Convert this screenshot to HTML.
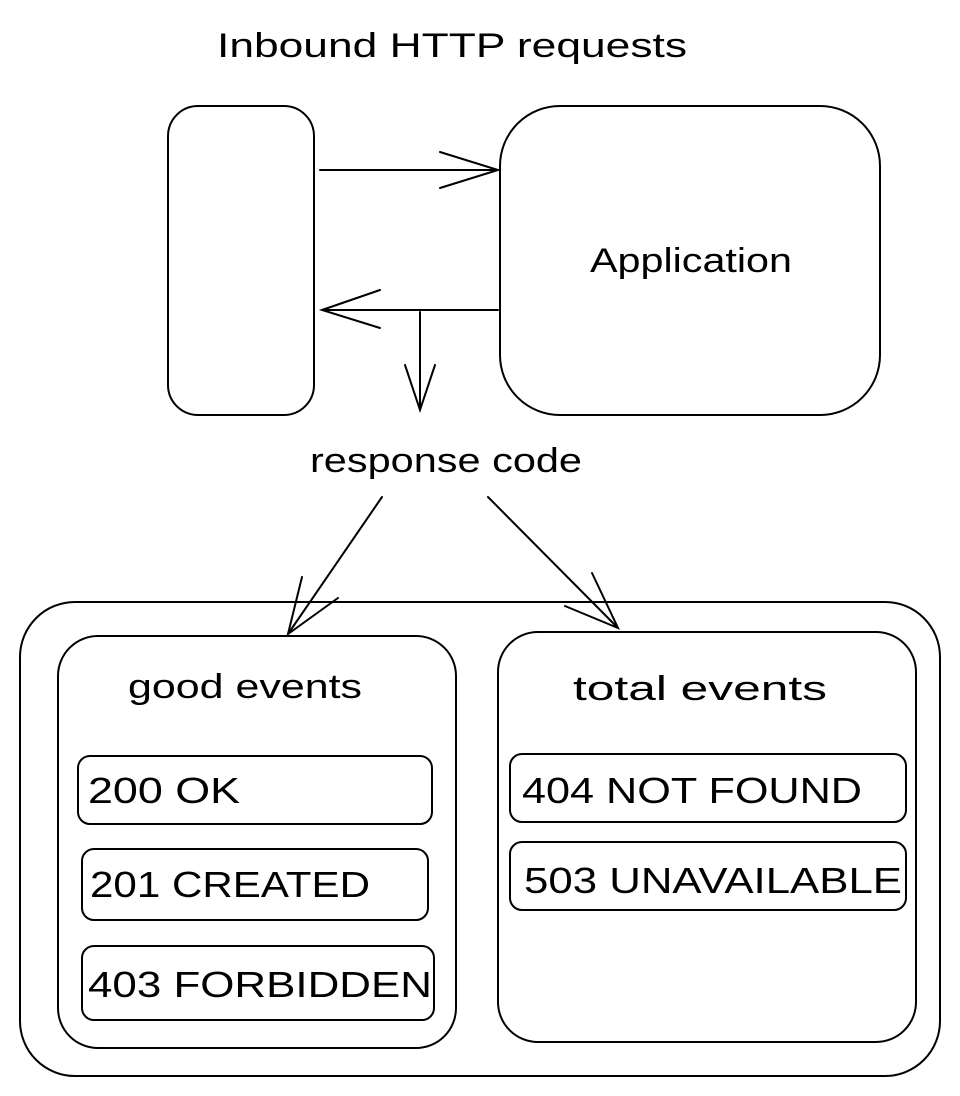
<!DOCTYPE html>
<html><head><meta charset="utf-8"><style>
html,body{margin:0;padding:0;background:#fff;}
svg{display:block;}
text{font-family:"Liberation Sans",sans-serif;fill:#000;}
</style></head><body>
<svg width="960" height="1096" viewBox="0 0 960 1096" xmlns="http://www.w3.org/2000/svg">
<g fill="none" stroke="#000" stroke-width="2" stroke-linecap="round">
<rect x="168" y="106" width="146" height="309" rx="30"/>
<rect x="500" y="106" width="380" height="309" rx="60"/>
<path d="M320 170 L498 170 M440 152 L498 170 L440 188"/>
<path d="M498 310 L322 310 M380 290 L322 310 L380 328"/>
<path d="M420 312 L420 410 M405 365 L420 410 L435 365"/>
<path d="M382 497 L288 634 M302 577 L288 634 L338 598"/>
<path d="M488 497 L618 628 M592 573 L618 628 L565 606"/>
<rect x="20" y="602" width="920" height="474" rx="55"/>
<rect x="58" y="636" width="398" height="412" rx="40"/>
<rect x="498" y="632" width="418" height="410" rx="40"/>
<rect x="78" y="756" width="354" height="68" rx="12"/>
<rect x="82" y="849" width="346" height="71" rx="12"/>
<rect x="82" y="946" width="352" height="74" rx="12"/>
<rect x="510" y="754" width="396" height="68" rx="12"/>
<rect x="510" y="842" width="396" height="68" rx="12"/>
</g>
<text x="217" y="57" font-size="34" textLength="470" lengthAdjust="spacingAndGlyphs">Inbound HTTP requests</text>
<text x="590" y="272" font-size="34" textLength="202" lengthAdjust="spacingAndGlyphs">Application</text>
<text x="310" y="472" font-size="34" textLength="272" lengthAdjust="spacingAndGlyphs">response code</text>
<text x="128" y="698" font-size="34" textLength="234" lengthAdjust="spacingAndGlyphs">good events</text>
<text x="573" y="700" font-size="34" textLength="254" lengthAdjust="spacingAndGlyphs">total events</text>
<text x="88" y="803" font-size="36" textLength="152" lengthAdjust="spacingAndGlyphs">200 OK</text>
<text x="90" y="897" font-size="36" textLength="280" lengthAdjust="spacingAndGlyphs">201 CREATED</text>
<text x="88" y="997" font-size="36" textLength="344" lengthAdjust="spacingAndGlyphs">403 FORBIDDEN</text>
<text x="522" y="803" font-size="36" textLength="340" lengthAdjust="spacingAndGlyphs">404 NOT FOUND</text>
<text x="524" y="893" font-size="36" textLength="378" lengthAdjust="spacingAndGlyphs">503 UNAVAILABLE</text>
</svg>
</body></html>
